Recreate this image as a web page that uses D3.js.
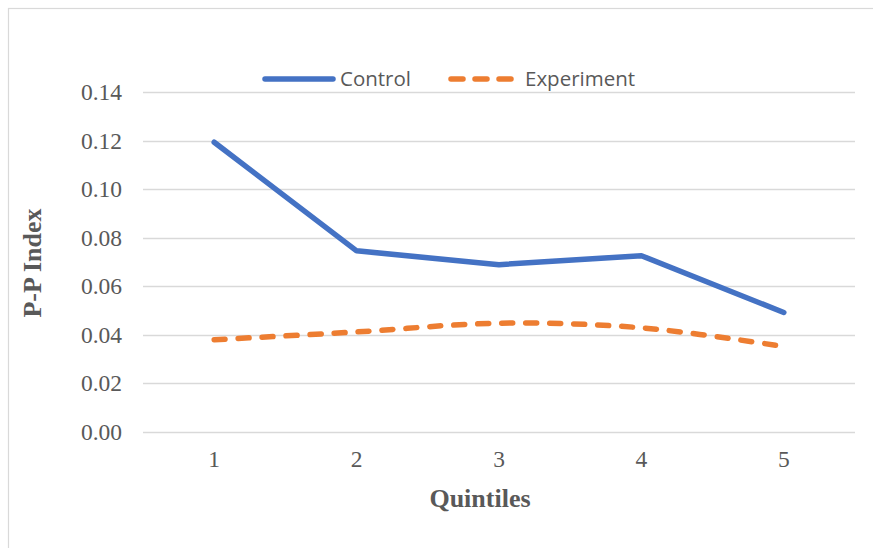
<!DOCTYPE html>
<html>
<head>
<meta charset="utf-8">
<script src="https://cdn.jsdelivr.net/npm/d3@7"></script>
<style>
  html, body { margin: 0; padding: 0; background: #fff; }
  svg { display: block; }
</style>
</head>
<body>
<svg id="chart" width="873" height="548"></svg>
<script>
// Quintile categories and P-P Index per group
const quintiles = ["1", "2", "3", "4", "5"];
const controlValues = [0.1193, 0.0746, 0.0689, 0.0726, 0.0492];
const experimentValues = [0.0380, 0.0412, 0.0448, 0.0429, 0.0352];
const yTicks = [0, 0.02, 0.04, 0.06, 0.08, 0.10, 0.12, 0.14];
const seriesNames = ["Control", "Experiment"];

const W = 873, H = 548;
const plot = { left: 143, right: 855, top: 92, bottom: 432 };
const svg = d3.select("#chart");
const textColor = "#595959";
const gridColor = "#d9d9d9";
const blue = "#4472C4", orange = "#ED7D31";
const serif = "'Liberation Serif', 'Times New Roman', serif";
const sans = "'Open Sans', 'Liberation Sans', sans-serif";

// Chart frame
svg.append("rect")
  .attr("x", 8.5).attr("y", 8.5)
  .attr("width", W + 20).attr("height", H + 20)
  .attr("fill", "#fff").attr("stroke", gridColor).attr("stroke-width", 1.2);

const x = d3.scaleBand().domain(quintiles).range([plot.left, plot.right]);
const y = d3.scaleLinear().domain([0, 0.14]).range([plot.bottom, plot.top]);

// Horizontal gridlines
svg.append("g").selectAll("line").data(yTicks).join("line")
  .attr("x1", plot.left).attr("x2", plot.right)
  .attr("y1", d => Math.round(y(d)) + 0.5).attr("y2", d => Math.round(y(d)) + 0.5)
  .attr("stroke", gridColor).attr("stroke-width", 1.5);

// Y axis labels
const yAxis = d3.axisLeft(y).tickValues(yTicks).tickFormat(d3.format(".2f")).tickSize(0).tickPadding(21);
const gy = svg.append("g").attr("transform", `translate(${plot.left},0)`).call(yAxis);
gy.select(".domain").remove();
gy.selectAll("text")
  .attr("fill", textColor)
  .style("font-family", serif)
  .style("font-size", "23.5px");

// X axis labels
const xAxis = d3.axisBottom(x).tickSize(0).tickPadding(18);
const gx = svg.append("g").attr("transform", `translate(0,${plot.bottom})`).call(xAxis);
gx.select(".domain").remove();
gx.selectAll("text")
  .attr("fill", textColor)
  .style("font-family", serif)
  .style("font-size", "23.5px");

// Axis titles
svg.append("text")
  .attr("x", 480).attr("y", 507)
  .attr("text-anchor", "middle")
  .attr("fill", textColor)
  .style("font-family", serif)
  .style("font-weight", "bold").style("font-size", "26px")
  .text("Quintiles");

svg.append("text")
  .attr("transform", `translate(41,${(plot.top + plot.bottom) / 2 + 1}) rotate(-90)`)
  .attr("text-anchor", "middle")
  .attr("fill", textColor)
  .style("font-family", serif)
  .style("font-weight", "bold").style("font-size", "26px")
  .text("P-P Index");

const cx = i => x(quintiles[i]) + x.bandwidth() / 2;

// Control: straight segments
svg.append("path")
  .datum(controlValues)
  .attr("d", d3.line().x((d, i) => cx(i)).y(d => y(d)))
  .attr("fill", "none").attr("stroke", blue)
  .attr("stroke-width", 5.5).attr("stroke-linecap", "round").attr("stroke-linejoin", "round");

// Experiment: smoothed dashed line
svg.append("path")
  .datum(experimentValues)
  .attr("d", d3.line().x((d, i) => cx(i)).y(d => y(d)).curve(d3.curveCatmullRom))
  .attr("fill", "none").attr("stroke", orange)
  .attr("stroke-width", 5.5).attr("stroke-linecap", "round")
  .attr("stroke-dasharray", "11 13");

// Legend
const legend = svg.append("g");
legend.append("line")
  .attr("x1", 265).attr("x2", 333).attr("y1", 79).attr("y2", 79)
  .attr("stroke", blue).attr("stroke-width", 5.5).attr("stroke-linecap", "round");
legend.append("text")
  .attr("x", 340).attr("y", 86)
  .attr("fill", textColor)
  .style("font-family", sans).style("font-size", "20.5px")
  .text(seriesNames[0]);
legend.append("line")
  .attr("x1", 451).attr("x2", 511).attr("y1", 79).attr("y2", 79)
  .attr("stroke", orange).attr("stroke-width", 5.5).attr("stroke-linecap", "round")
  .attr("stroke-dasharray", "12 12");
legend.append("text")
  .attr("x", 525).attr("y", 86)
  .attr("fill", textColor)
  .style("font-family", sans).style("font-size", "20.5px")
  .text(seriesNames[1]);
</script>
</body>
</html>
